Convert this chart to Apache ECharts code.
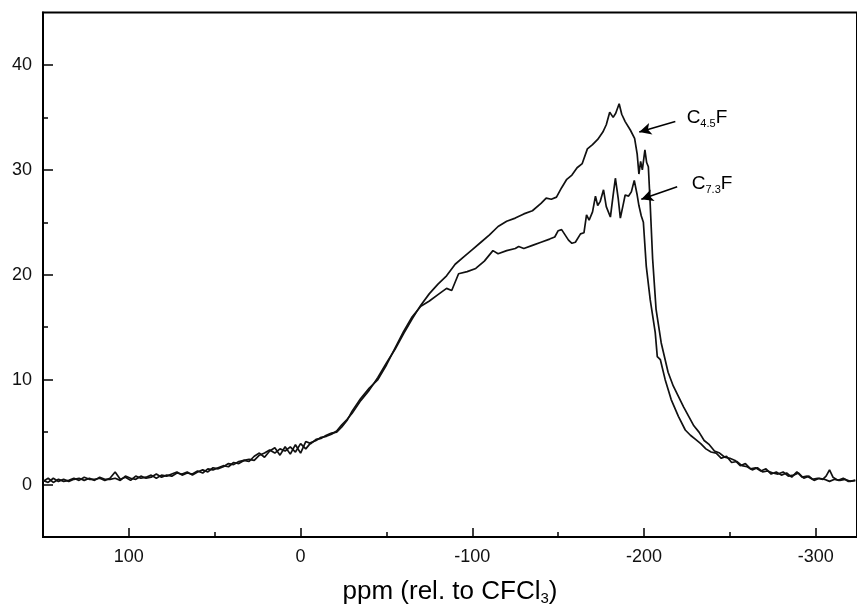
<!DOCTYPE html>
<html>
<head>
<meta charset="utf-8">
<script src="https://cdn.jsdelivr.net/npm/echarts@6/dist/echarts.min.js"></script>
<style>
html,body{margin:0;padding:0;background:#fff;}
#chart{width:857px;height:614px;}
</style>
</head>
<body>
<div id="chart"></div>
<script>
// C4.5F spectrum (ppm, intensity)
const ppmA = [150,147,144,141,138,135,132,129,126,123,120,117,114,111,108,105,102,99,96,93,90,87,84,81,78,75,72,69,66,63,60,57,54,51,48,45,42,39,36,33,30,27,24,21,18,15,12,9,6,3,0,-3,-6,-9,-12,-15,-18,-21,-24,-27,-30,-35,-40,-45,-50,-55,-60,-65,-70,-75,-80,-85,-90,-95,-100,-105,-110,-115,-120,-125,-130,-135,-140,-143,-146,-149,-152,-155,-158,-161,-164,-167,-170,-173,-176,-178,-180,-182,-183.5,-185.5,-187,-189,-192,-194.5,-196,-197,-198,-199,-200.5,-201.5,-202.5,-203.5,-205,-207,-210,-214,-217,-220,-223,-226,-229,-232,-235,-238,-241,-244,-247,-250,-253,-256,-259,-262,-265,-268,-271,-274,-277,-280,-283,-286,-289,-292,-295,-298,-301,-304,-306,-308,-310,-313,-316,-319,-323];
const intA = [0.3,0.6,0.2,0.5,0.3,0.4,0.6,0.4,0.7,0.5,0.5,0.6,0.4,0.6,1.2,0.5,0.7,0.4,0.8,0.6,0.7,0.9,0.6,0.9,0.8,1.0,1.2,0.9,1.1,1.0,1.3,1.1,1.5,1.4,1.6,1.8,1.7,2.1,2.0,2.3,2.4,2.3,2.8,3.0,3.3,3.0,3.4,3.2,3.6,3.1,3.9,3.4,4.0,4.2,4.5,4.6,4.8,5.1,5.7,6.2,6.8,8.0,9.0,10.2,11.6,12.9,14.4,15.8,17.1,18.2,19.1,19.9,21.0,21.7,22.4,23.1,23.8,24.6,25.1,25.4,25.8,26.1,26.8,27.3,27.2,27.4,28.3,29.1,29.5,30.2,30.6,32.0,32.4,32.9,33.6,34.3,35.5,35.0,35.4,36.3,35.3,34.6,33.8,33.0,31.5,29.6,30.8,30.0,31.9,30.7,30.3,27.0,21.5,16.7,13.5,10.7,9.4,8.4,7.4,6.5,5.6,5.0,4.2,3.8,3.2,3.0,2.6,2.5,2.3,1.8,2.0,1.5,1.6,1.3,1.5,1.0,1.2,0.9,1.1,0.7,1.2,0.7,0.8,0.5,0.6,0.5,0.8,1.4,0.7,0.4,0.6,0.3,0.4];

// C7.3F spectrum (ppm, intensity)
const ppmB = [150,147,144,141,138,135,132,129,126,123,120,117,114,111,108,105,102,99,96,93,90,87,84,81,78,75,72,69,66,63,60,57,54,51,48,45,42,39,36,33,30,27,24,21,18,15,12,9,6,3,0,-3,-6,-9,-12,-15,-18,-21,-24,-27,-30,-35,-40,-45,-50,-55,-60,-65,-70,-75,-80,-85,-88,-92,-97,-102,-107,-112,-115,-120,-125,-127,-130,-135,-140,-145,-148,-150,-152,-154,-156,-158,-160,-163,-165,-166.5,-168,-170,-171.7,-173,-174.5,-176.4,-178,-180.4,-182,-183.3,-185,-186.2,-188,-189,-191,-192.6,-194.3,-196,-197,-198.4,-199.6,-201.3,-203.6,-206.5,-207.7,-209.5,-212.3,-215.8,-220,-224,-227,-230,-233,-236,-239,-242,-245,-248,-251,-254,-257,-260,-263,-266,-269,-272,-275,-278,-281,-284,-287,-290,-293,-296,-299,-302,-305,-308,-311,-314,-317,-320,-323];
const intB = [0.4,0.2,0.6,0.3,0.5,0.3,0.5,0.6,0.4,0.6,0.4,0.7,0.5,0.5,0.6,0.4,0.8,0.6,0.5,0.8,0.6,0.7,1.0,0.7,0.9,0.8,1.1,1.0,1.2,0.9,1.2,1.4,1.2,1.6,1.5,1.7,2.0,1.9,2.2,2.3,2.2,2.7,3.0,2.6,3.2,3.5,2.8,3.6,2.9,3.8,3.0,4.1,3.9,4.3,4.4,4.7,4.9,5.0,5.5,6.1,7.0,8.2,9.2,10.0,11.4,13.0,14.6,16.0,17.0,17.5,18.1,18.7,18.5,20.1,20.3,20.6,21.3,22.3,22.0,22.3,22.5,22.7,22.5,22.8,23.1,23.4,23.6,24.2,24.3,23.8,23.3,23.0,23.1,23.9,24.0,25.7,25.2,26.0,27.5,26.6,27.0,28.1,26.5,25.5,27.6,29.2,27.2,25.4,26.8,27.6,27.5,27.9,29.0,27.6,26.6,25.6,25.0,20.8,17.6,14.5,12.2,11.9,10.0,8.1,6.5,5.2,4.7,4.3,3.9,3.4,3.1,3.0,2.5,2.7,2.1,2.2,1.8,1.7,1.4,1.6,1.2,1.3,1.1,1.0,1.2,0.8,0.9,1.1,0.6,0.8,0.4,0.6,0.5,0.3,0.5,0.4,0.5,0.3,0.4];

const xMajorTicks = [100, 0, -100, -200, -300];
const xMinorTicks = [50, -50, -150, -250];
const yMajorTicks = [0, 10, 20, 30, 40];
const yMinorTicks = [5, 15, 25, 35];

const xMin = -324, xMax = 150, yMin = -5, yMax = 45;

// annotation anchors (data coordinates)
const labelA = { name: 'C4.5F', text: [-224.5, 35.0], arrowFrom: [-218.2, 34.6], arrowTo: [-197.2, 33.6] };
const labelB = { name: 'C7.3F', text: [-227.5, 28.7], arrowFrom: [-219.3, 28.4], arrowTo: [-198.4, 27.2] };

const font = "'Liberation Sans', Arial, Helvetica, sans-serif";
const black = '#000';

function pairs(xs, ys) { return xs.map((x, i) => [x, ys[i]]); }

const richLbl = {
  c: { fontFamily: font, fontSize: 19, color: black },
  s: { fontFamily: font, fontSize: 11, color: black, verticalAlign: 'bottom', padding: [13, 0, 0, 0] }
};

function annot(a, sub) {
  return {
    markLine: {
      silent: true,
      symbol: ['none', 'arrow'],
      symbolSize: [9, 12],
      lineStyle: { color: black, width: 1.6, type: 'solid' },
      label: { show: false },
      emphasis: { disabled: true },
      animation: false,
      data: [[{ coord: a.arrowFrom }, { coord: a.arrowTo }]]
    },
    markPoint: {
      silent: true,
      symbol: 'circle',
      symbolSize: 1,
      itemStyle: { color: 'rgba(0,0,0,0)' },
      animation: false,
      label: {
        show: true,
        position: 'right',
        distance: 0,
        formatter: '{c|C}{s|' + sub + '}{c|F}',
        rich: richLbl
      },
      data: [{ coord: a.text }]
    }
  };
}

const chart = echarts.init(document.getElementById('chart'), null, { renderer: 'canvas' });

const axisLabelStyle = { fontFamily: font, fontSize: 18, color: '#111' };

chart.setOption({
  animation: false,
  backgroundColor: '#fff',
  grid: { left: 43, right: -2, top: 12.5, bottom: 77, show: true, borderColor: black, borderWidth: 2, containLabel: false },
  xAxis: [
    {
      type: 'value', min: xMin, max: xMax, inverse: true, position: 'bottom',
      axisLine: { show: true, onZero: false, lineStyle: { color: black, width: 2 } },
      axisTick: { show: true, inside: true, length: 9, lineStyle: { color: black, width: 1.5 }, customValues: xMajorTicks },
      axisLabel: { show: true, margin: 11, customValues: xMajorTicks, ...axisLabelStyle },
      splitLine: { show: false },
      name: '{a|ppm (rel. to CFCl}{b|3}{a|)}',
      nameLocation: 'middle',
      nameGap: 40,
      nameTextStyle: {
        rich: {
          a: { fontFamily: font, fontSize: 26, color: black },
          b: { fontFamily: font, fontSize: 15, color: black, padding: [14, 0, 0, 0] }
        }
      }
    },
    {
      type: 'value', min: xMin, max: xMax, inverse: true, position: 'bottom',
      axisLine: { show: false, onZero: false },
      axisTick: { show: true, inside: true, length: 5, lineStyle: { color: black, width: 1.5 }, customValues: xMinorTicks },
      axisLabel: { show: false },
      splitLine: { show: false }
    }
  ],
  yAxis: [
    {
      type: 'value', min: yMin, max: yMax, position: 'left',
      axisLine: { show: true, onZero: false, lineStyle: { color: black, width: 2 } },
      axisTick: { show: true, inside: true, length: 10, lineStyle: { color: black, width: 1.5 }, customValues: yMajorTicks },
      axisLabel: { show: true, margin: 11, customValues: yMajorTicks, ...axisLabelStyle },
      splitLine: { show: false }
    },
    {
      type: 'value', min: yMin, max: yMax, position: 'left',
      axisLine: { show: false, onZero: false },
      axisTick: { show: true, inside: true, length: 5, lineStyle: { color: black, width: 1.5 }, customValues: yMinorTicks },
      axisLabel: { show: false },
      splitLine: { show: false }
    }
  ],
  series: [
    Object.assign({
      name: 'C4.5F', type: 'line', xAxisIndex: 0, yAxisIndex: 0,
      data: pairs(ppmA, intA), showSymbol: false, symbol: 'none',
      lineStyle: { color: '#111', width: 1.7 }, clip: true
    }, annot(labelA, '4.5')),
    Object.assign({
      name: 'C7.3F', type: 'line', xAxisIndex: 0, yAxisIndex: 0,
      data: pairs(ppmB, intB), showSymbol: false, symbol: 'none',
      lineStyle: { color: '#111', width: 1.7 }, clip: true
    }, annot(labelB, '7.3'))
  ]
});
</script>
</body>
</html>
